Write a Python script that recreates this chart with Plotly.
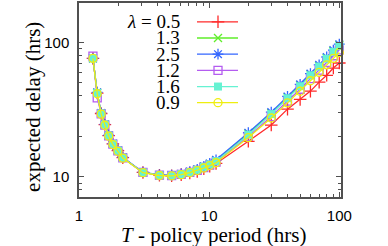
import plotly.graph_objects as go

# ---- data ----
T_hours = [1.28, 1.38, 1.48, 1.58, 1.69, 1.82, 1.99, 2.17, 3.1, 4.15, 5.15, 6.1, 7.1,
           8.1, 9.1, 10.1, 11.3, 20, 30, 40, 50, 60, 70, 80, 90, 100]

delay_l05 = [76, 42, 29.6, 24.5, 20.3, 17.6, 15.7, 13.9, 10.8, 10.3, 10.2, 10.4, 10.7,
             11.0, 11.5, 12.0, 12.6, 18.4, 24.3, 31.9, 37.7, 43.4, 50.6, 56.9, 64.4, 70.2]
delay_l13 = [76, 42.2, 29.7, 24.5, 20.3, 17.6, 15.7, 13.95, 10.8, 10.3, 10.25, 10.5, 10.9,
             11.35, 11.95, 12.5, 13.25, 21.0, 29.8, 39.0, 48.0, 57.8, 67.0, 76.5, 86.3, 95.3]
delay_l25 = [76, 42.5, 29.8, 24.6, 20.4, 17.7, 15.8, 14.0, 10.85, 10.35, 10.3, 10.55, 10.95,
             11.4, 12.0, 12.6, 13.4, 21.3, 30.3, 39.6, 48.7, 58.6, 68.0, 77.8, 87.5, 96.8]
delay_l12 = [79, 38.7, 29.4, 24.3, 20.2, 17.5, 15.6, 13.85, 10.8, 10.3, 10.25, 10.45, 10.8,
             11.2, 11.75, 12.25, 12.9, 20.0, 28.1, 36.6, 44.8, 53.8, 62.2, 70.8, 79.5, 87.8]
delay_l16 = [76, 42, 29.6, 24.5, 20.3, 17.6, 15.7, 13.9, 10.8, 10.3, 10.25, 10.5, 10.85,
             11.3, 11.9, 12.4, 13.1, 20.6, 29.3, 38.4, 47.2, 56.9, 66.0, 75.5, 85.0, 94.0]
delay_l09 = [76, 41.5, 29.3, 24.2, 20.1, 17.4, 15.5, 13.8, 10.75, 10.25, 10.2, 10.4, 10.75,
             11.15, 11.65, 12.15, 12.75, 19.6, 27.4, 35.5, 43.3, 51.8, 59.8, 68.0, 76.0, 84.0]

lambda_labels = ["0.5", "1.3", "2.5", "1.2", "1.6", "0.9"]
series = [delay_l05, delay_l13, delay_l25, delay_l12, delay_l16, delay_l09]

x_tickvals = [1, 10, 100]
x_ticktext = ["1", "10", "100"]
y_tickvals = [10, 100]
y_ticktext = ["10", "100"]

# ---- styles ----
colors = ["#ff2a2a", "#5fee2a", "#3366ff", "#b45cf0", "#66f2d2", "#eeee10"]
symbols = ["cross-thin-open", "x-thin-open", "asterisk-open", "square-open", "square", "circle-open"]
msizes = [9, 8, 9, 8, 8, 8]

fig = go.Figure()

for vals, col, sym, ms in zip(series, colors, symbols, msizes):
    filled = sym == "square"
    fig.add_trace(go.Scatter(
        x=T_hours, y=vals, mode="lines+markers",
        line=dict(color=col, width=1.3),
        marker=dict(symbol=sym, size=ms, color=col,
                    line=dict(color=col, width=1.3 if not filled else 0)),
        cliponaxis=False, showlegend=False,
    ))

# legend samples drawn on an overlay axis (0..1 units)
plot_l, plot_r, plot_t, plot_b = 79, 341, 1, 197
pw, ph = plot_r - plot_l, plot_b - plot_t
for i, (col, sym, ms) in enumerate(zip(colors, symbols, msizes)):
    py = 20 + 16.35 * i
    yy = (plot_b - py) / ph
    x0, x1, xm = (197 - plot_l) / pw, (238 - plot_l) / pw, (218 - plot_l) / pw
    filled = sym == "square"
    fig.add_trace(go.Scatter(
        x=[x0, x1], y=[yy, yy], mode="lines", line=dict(color=col, width=1.3),
        xaxis="x2", yaxis="y2", showlegend=False, hoverinfo="skip"))
    fig.add_trace(go.Scatter(
        x=[xm], y=[yy], mode="markers",
        marker=dict(symbol=sym, size=ms, color=col,
                    line=dict(color=col, width=1.3 if not filled else 0)),
        xaxis="x2", yaxis="y2", showlegend=False, hoverinfo="skip"))
    txt = ("<i>λ</i> = " + lambda_labels[i]) if i == 0 else lambda_labels[i]
    fig.add_annotation(x=(182 - plot_l) / pw, y=yy, xref="paper", yref="paper",
                       text=txt, showarrow=False, xanchor="right", yanchor="middle",
                       font=dict(family="Liberation Serif", size=19, color="black"))

axis_common = dict(
    type="log", showline=True, mirror="allticks", linecolor="#505050", linewidth=1.5,
    ticks="inside", ticklen=5, tickwidth=1, tickcolor="#505050",
    showgrid=False, zeroline=False,
    tickfont=dict(family="Liberation Sans", size=15, color="black"),
)

fig.update_layout(
    width=388, height=246,
    margin=dict(l=plot_l, r=388 - plot_r, t=plot_t, b=246 - plot_b, pad=0),
    paper_bgcolor="white", plot_bgcolor="white",
    showlegend=False,
    xaxis=dict(**axis_common, range=[0, 2.013], tickvals=x_tickvals, ticktext=x_ticktext,
               ticklabelstandoff=4,
               minor=dict(ticks="inside", ticklen=3, tickcolor="#505050",
                          tickvals=[2, 3, 4, 5, 6, 7, 8, 9, 20, 30, 40, 50, 60, 70, 80, 90])),
    yaxis=dict(**axis_common, range=[0.851, 2.292], tickvals=y_tickvals, ticktext=y_ticktext,
               ticklabelstandoff=5,
               minor=dict(ticks="inside", ticklen=3, tickcolor="#505050",
                          tickvals=[8, 9, 20, 30, 40, 50, 60, 70, 80, 90])),
    xaxis2=dict(overlaying="x", range=[0, 1], visible=False, fixedrange=True),
    yaxis2=dict(overlaying="y", range=[0, 1], visible=False, fixedrange=True),
)

fig.add_annotation(x=(213 - plot_l) / pw, y=(plot_b - 235) / ph, xref="paper", yref="paper",
                   text="<i>T</i> - policy period (hrs)", showarrow=False,
                   xanchor="center", yanchor="middle",
                   font=dict(family="Liberation Serif", size=21, color="black"))
fig.add_annotation(x=(33 - plot_l) / pw, y=(plot_b - 106) / ph, xref="paper", yref="paper",
                   text="expected delay (hrs)", showarrow=False, textangle=-90,
                   xanchor="center", yanchor="middle",
                   font=dict(family="Liberation Serif", size=21, color="black"))

fig.write_html("out.html", config={"displayModeBar": False},
               post_script="document.body.style.margin='0';")
